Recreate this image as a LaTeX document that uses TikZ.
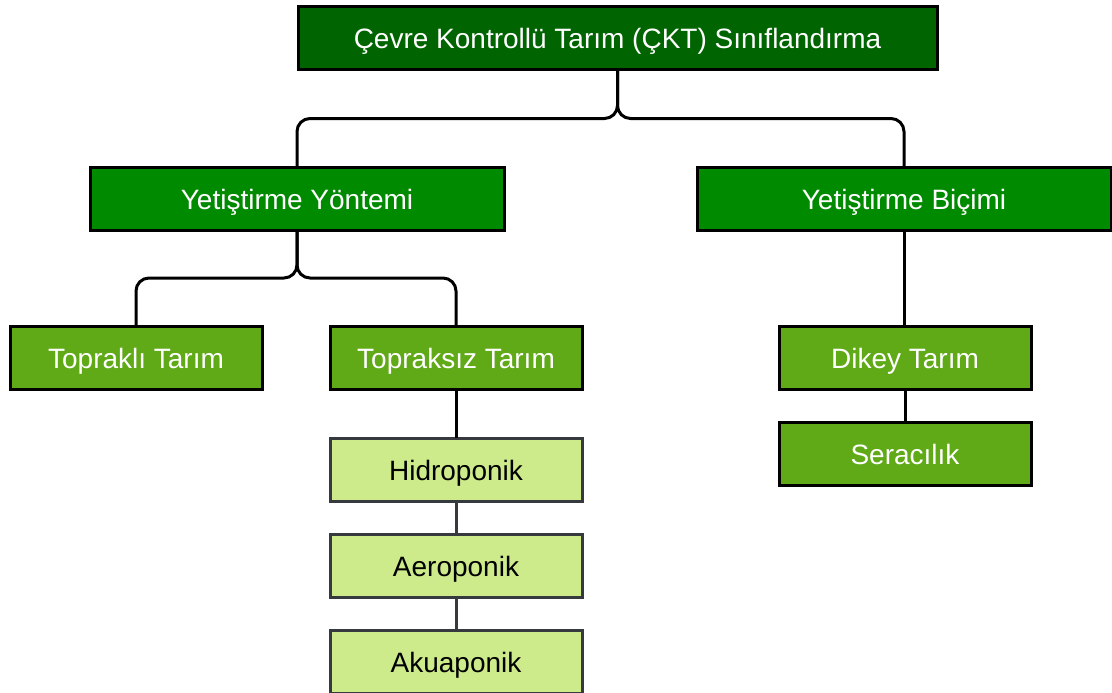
\documentclass[tikz,border=0pt]{standalone}
\usepackage{fontspec}
\setmainfont{Liberation Sans}
\definecolor{rootgreen}{HTML}{006400}
\definecolor{midgreen}{HTML}{008A00}
\definecolor{leafgreen}{HTML}{60A917}
\definecolor{palegreen}{HTML}{CDEB8B}
\definecolor{edgegray}{HTML}{36393D}
\begin{document}
\begin{tikzpicture}[x=1pt,y=-1pt,
  box/.style={draw=black,line width=3pt,inner sep=0pt,outer sep=0pt,
    minimum height=63pt,text height=21pt,text depth=0pt,
    font=\fontsize{28}{32}\selectfont,text=white},
  rootbox/.style={box,fill=rootgreen,minimum width=639pt},
  midbox/.style={box,fill=midgreen,minimum width=414pt},
  leafbox/.style={box,fill=leafgreen,minimum width=252pt},
  palebox/.style={box,draw=edgegray,fill=palegreen,minimum width=252pt,text=black},
  conn/.style={draw=black,line width=3pt,rounded corners=13pt},
  softconn/.style={draw=edgegray,line width=3pt}]
\useasboundingbox (0,0) rectangle (1112,693);

% classification boxes
\node[rootbox] (root) at (617.5,38.5) {Çevre Kontrollü Tarım (ÇKT) Sınıflandırma};
\node[midbox] (yontem) at (297,198.5) {Yetiştirme Yöntemi};
\node[midbox] (bicim) at (904,198.5) {Yetiştirme Biçimi};
\node[leafbox] (toprakli) at (136,357.5) {Topraklı Tarım};
\node[leafbox] (topraksiz) at (456,357.5) {Topraksız Tarım};
\node[leafbox] (dikey) at (905,357.5) {Dikey Tarım};
\node[leafbox] (sera) at (905,453.5) {Seracılık};
\node[palebox] (hidro) at (456,469.5) {Hidroponik};
\node[palebox] (aero) at (456,565.5) {Aeroponik};
\node[palebox] (akua) at (456,661.5) {Akuaponik};

% tree connectors
\path[conn] (root.south) |- (297,118.5) -- (yontem.north);
\path[conn] (root.south) |- (904,118.5) -- (bicim.north);
\path[conn] (yontem.south) |- (136,278) -- (toprakli.north);
\path[conn] (yontem.south) |- (456,278) -- (topraksiz.north);
\path[conn] (bicim.south) -- (bicim.south |- dikey.north);
\path[conn] (dikey.south) -- (dikey.south |- sera.north);
\path[conn] (topraksiz.south) -- (hidro.north);
\path[softconn] (hidro.south) -- (aero.north);
\path[softconn] (aero.south) -- (akua.north);
\end{tikzpicture}
\end{document}
